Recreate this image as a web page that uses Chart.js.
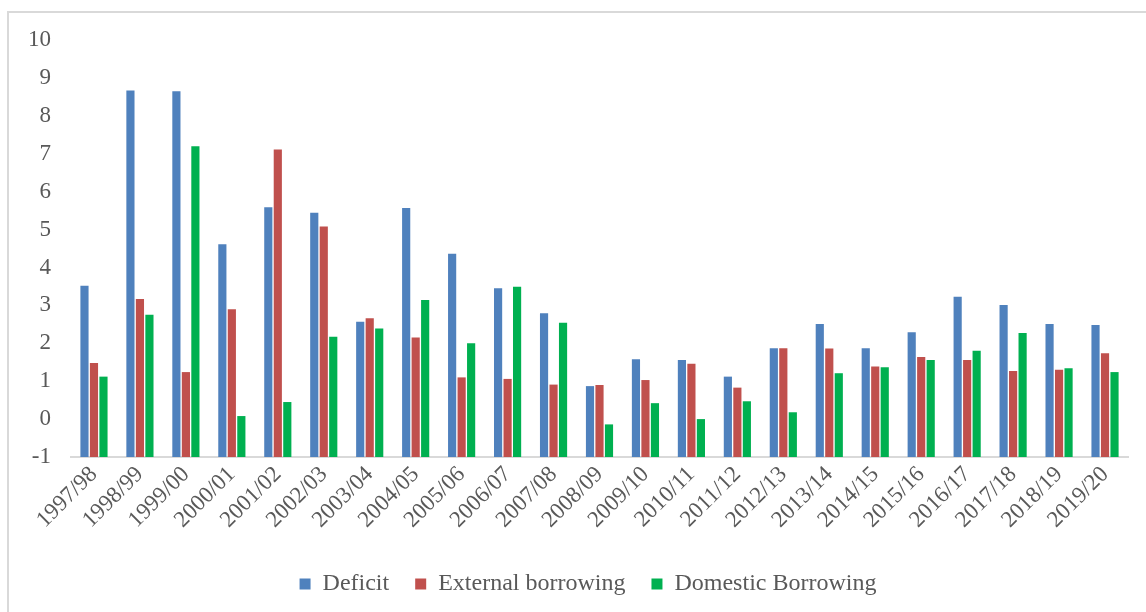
<!DOCTYPE html>
<html>
<head>
<meta charset="utf-8">
<script src="https://cdn.jsdelivr.net/npm/chart.js@4/dist/chart.umd.min.js"></script>
<style>
    html, body {
        margin: 0;
        padding: 0;
        background: #ffffff;
        overflow: hidden;
    }

    #wrap {
        position: relative;
        width: 1146px;
        height: 612px;
    }

    /* light frame around the chart (top and left edges only visible) */
    #frame {
        position: absolute;
        left: 7px;
        top: 11px;
        width: 1200px;
        height: 700px;
        border-top: 2px solid #d9d9d9;
        border-left: 2px solid #d9d9d9;
        pointer-events: none;
    }
</style>
</head>
<body>
<div id="wrap">
    <canvas id="fiscalChart"></canvas>
    <div id="frame"></div>
</div>

<script>
const years = [
    "1997/98", "1998/99", "1999/00", "2000/01", "2001/02", "2002/03",
    "2003/04", "2004/05", "2005/06", "2006/07", "2007/08", "2008/09",
    "2009/10", "2010/11", "2011/12", "2012/13", "2013/14", "2014/15",
    "2015/16", "2016/17", "2017/18", "2018/19", "2019/20"
];

const deficit = [
    3.52, 8.67, 8.65, 4.61, 5.59, 5.44, 2.57, 5.57, 4.36, 3.45, 2.79, 0.87,
    1.58, 1.56, 1.12, 1.87, 2.51, 1.87, 2.29, 3.23, 3.01, 2.51, 2.48
];

const externalBorrowing = [
    1.48, 3.17, 1.24, 2.90, 7.11, 5.08, 2.66, 2.15, 1.10, 1.06, 0.91, 0.90,
    1.03, 1.46, 0.83, 1.87, 1.86, 1.39, 1.64, 1.56, 1.27, 1.30, 1.74
];

const domesticBorrowing = [
    1.12, 2.75, 7.20, 0.08, 0.45, 2.17, 2.39, 3.14, 2.00, 3.49, 2.54, -0.14,
    0.42, 0.00, 0.47, 0.18, 1.21, 1.37, 1.56, 1.80, 2.27, 1.34, 1.24
];

const yMin = -1;
const yMax = 10;

const serif = "'Liberation Serif', 'Times New Roman', serif";
const textGray = "#595959";

// bars grow up from the bottom of the axis, not from zero
function barSet(label, data, color) {

    return {
        label: label,
        data: data,
        base: yMin,
        backgroundColor: color,
        borderColor: color,
        borderWidth: 0,
        barPercentage: 0.86,
        categoryPercentage: 0.62
    };
}

// nudge the legend so it is centred under the plot area, not the canvas
const legendShift = {
    id: "legendShift",
    afterLayout(chart) {
        if (chart.legend) {
            chart.legend.left += 48;
        }
    }
};

const ctx = document.getElementById("fiscalChart");

new Chart(ctx, {

    type: "bar",

    data: {
        labels: years,
        datasets: [
            barSet("Deficit", deficit, "#4f81bd"),
            barSet("External borrowing", externalBorrowing, "#c0504d"),
            barSet("Domestic Borrowing", domesticBorrowing, "#00b050")
        ]
    },

    options: {
        responsive: true,
        maintainAspectRatio: false,
        animation: false,
        layout: {
            padding: { top: 40, right: 18, bottom: 6, left: 0 }
        },
        plugins: {
            tooltip: { enabled: false },
            legend: {
                position: "bottom",
                labels: {
                    color: textGray,
                    font: { family: serif, size: 24 },
                    boxWidth: 11,
                    boxHeight: 11,
                    padding: 26
                }
            }
        },
        scales: {
            x: {
                grid: { display: false, drawTicks: false },
                border: { display: true, color: "#d9d9d9", width: 2 },
                ticks: {
                    color: textGray,
                    font: { family: serif, size: 23 },
                    minRotation: 45,
                    maxRotation: 45,
                    padding: 4
                },
                afterFit: (scale) => {
                    scale.height = 89;
                }
            },
            y: {
                min: yMin,
                max: yMax,
                grid: { display: false, drawTicks: false },
                border: { display: false },
                ticks: {
                    stepSize: 1,
                    color: textGray,
                    font: { family: serif, size: 23 },
                    padding: 20
                },
                afterFit: (scale) => {
                    scale.width = 71;
                }
            }
        }
    },

    plugins: [legendShift]
});
</script>
</body>
</html>
